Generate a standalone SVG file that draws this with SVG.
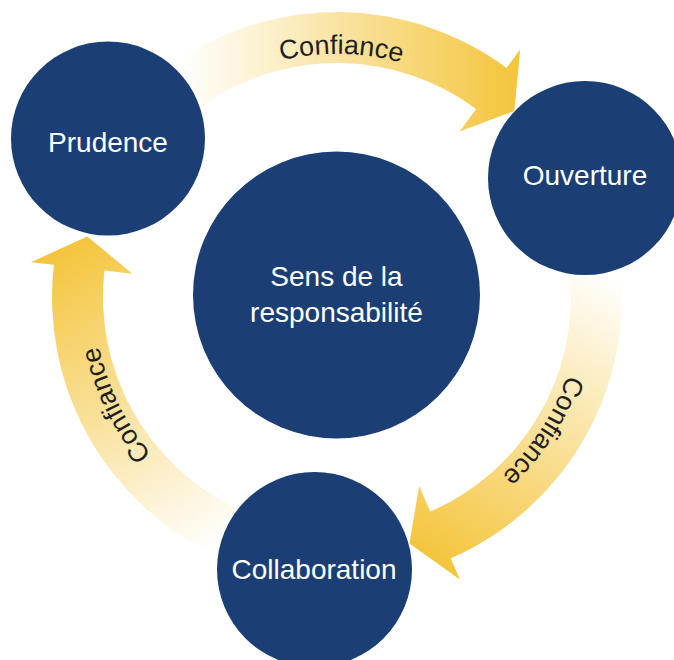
<svg xmlns="http://www.w3.org/2000/svg" xmlns:xlink="http://www.w3.org/1999/xlink" width="674" height="660" viewBox="0 0 674 660">
  <style>
    .node { fill: #1B3F75; }
    .ntext { fill: #FFFFFF; font-family: "Liberation Sans", Arial, sans-serif; font-size: 28px; text-anchor: middle; }
    .ltext { fill: #1F1F1F; font-family: "Liberation Sans", Arial, sans-serif; font-size: 27px; text-anchor: middle; }
  </style>
  <defs>
    <linearGradient id="gold" gradientUnits="userSpaceOnUse" x1="180" y1="0" x2="515" y2="0">
      <stop offset="0" stop-color="#FFFFFF"/>
      <stop offset="1" stop-color="#F4C53D"/>
    </linearGradient>
    <path id="arrow" d="M175.6,62.1 A285,285 0 0 1 506.5,67.9 L520.2,49.4 L514.3,111.0 L459.5,131.4 L476.2,108.9 A234,234 0 0 0 204.5,104.2 Z" fill="url(#gold)"/>
    <path id="labelArc" d="M110.1,209.9 A243,243 0 0 1 566.8,217.9" fill="none"/>
  </defs>
  <g id="connectors">
    <use xlink:href="#arrow"/>
    <use xlink:href="#arrow" transform="rotate(120 337 297)"/>
    <use xlink:href="#arrow" transform="rotate(240 337 297)"/>
    <text class="ltext"><textPath xlink:href="#labelArc" startOffset="50%">Confiance</textPath></text>
    <text class="ltext" transform="rotate(122 337 297)"><textPath xlink:href="#labelArc" startOffset="50%">Confiance</textPath></text>
    <text class="ltext" transform="rotate(243 337 297)"><textPath xlink:href="#labelArc" startOffset="50%">Confiance</textPath></text>
  </g>
  <g id="prudence">
    <circle class="node" cx="108" cy="138.5" r="97"/>
    <text class="ntext" x="108" y="152">Prudence</text>
  </g>
  <g id="ouverture">
    <circle class="node" cx="585" cy="178" r="97"/>
    <text class="ntext" x="585" y="185">Ouverture</text>
  </g>
  <g id="responsabilite">
    <circle class="node" cx="336.5" cy="295" r="143.5"/>
    <text class="ntext" x="336.5" y="285.7">Sens de la</text>
    <text class="ntext" x="336.5" y="321.7">responsabilité</text>
  </g>
  <g id="collaboration">
    <circle class="node" cx="314.5" cy="569.5" r="97.5"/>
    <text class="ntext" x="314" y="579.3">Collaboration</text>
  </g>
</svg>
